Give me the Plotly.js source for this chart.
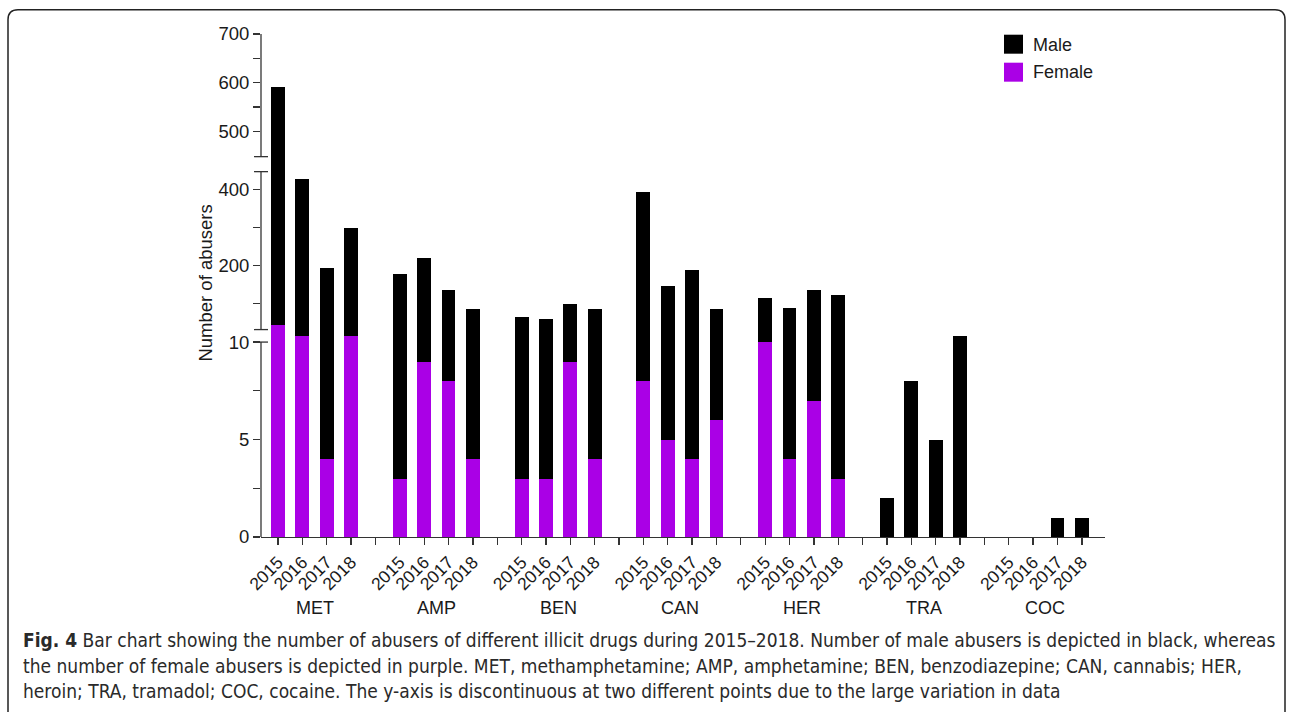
<!DOCTYPE html>
<html><head><meta charset="utf-8">
<script src="https://cdn.plot.ly/plotly-3.0.1.min.js"></script>
<style>html,body{margin:0;padding:0;background:#fff}</style>
</head><body>
<div id="chart" style="width:1292px;height:712px"></div>
<script>
// ---- data ----
const drugs = ['MET', 'AMP', 'BEN', 'CAN', 'HER', 'TRA', 'COC'];
const years = ['2015', '2016', '2017', '2018'];
// female abusers per drug, 2015..2018
const femaleMET = [10.9, 10.3, 4, 10.3];
const femaleAMP = [3, 9, 8, 4];
const femaleBEN = [3, 3, 9, 4];
const femaleCAN = [8, 5, 4, 6];
const femaleHER = [10, 4, 7, 3];
const femaleTRA = [0, 0, 0, 0];
const femaleCOC = [0, 0, 0, 0];
// male abusers per drug, 2015..2018
const maleMET = [581, 419, 191, 290];
const maleAMP = [175, 210, 127, 83];
const maleBEN = [62, 56, 90, 83];
const maleCAN = [387, 140, 184, 81];
const maleHER = [105, 85, 128, 119];
const maleTRA = [2, 8, 5, 10.3];
const maleCOC = [0, 0, 1, 1];

const femaleAll = [femaleMET, femaleAMP, femaleBEN, femaleCAN, femaleHER, femaleTRA, femaleCOC];
const maleAll = [maleMET, maleAMP, maleBEN, maleCAN, maleHER, maleTRA, maleCOC];

// ---- geometry (pixels) ----
const W0 = 1292, H0 = 712;
const L = 261, R = 1105, T = 34.3, B = 537.5;
const PW = R - L, PH = B - T;
const px = v => (v - L) / PW;      // pixel x -> paper
const py = v => (B - v) / PH;      // pixel y -> paper
// value at pixel row for each axis segment
const seg1 = p => (B - p) / 19.5;
const seg2 = p => 200 + (266 - p) / 0.38;
const seg3 = p => 700 - (p - T) / 0.487;

const BLACK = '#000000', PURPLE = '#aa00e6', AX = '#333333', TXT = '#1a1a1a';
const FONT = '"Liberation Sans", Arimo, Arial, Helvetica, sans-serif';

// font helpers for the caption (condensed face if installed)
const cv = document.createElement('canvas').getContext('2d');
function hasFont(f) {
  const s = 'abcdefghijklmnopqrstuvwxyz ABCDEFGHIJKLMNOPQRSTUVWXYZ 0123456789';
  for (const base of ['monospace', 'serif']) {
    cv.font = '40px ' + base; const a = cv.measureText(s).width;
    cv.font = '40px "' + f + '", ' + base; const b = cv.measureText(s).width;
    if (Math.abs(a - b) > 0.5) return true;
  }
  return false;
}
const capCandidates = ['Liberation Sans Narrow', 'DejaVu Sans Condensed', 'Roboto Condensed', 'Open Sans Condensed',
  'Noto Sans Condensed', 'Liberation Sans'];
let capFam = 'Liberation Sans';
for (const f of capCandidates) { if (hasFont(f)) { capFam = f; break; } }

const capLines = [
  '<b>Fig. 4</b> Bar chart showing the number of abusers of different illicit drugs during 2015–2018. Number of male abusers is depicted in black, whereas',
  'the number of female abusers is depicted in purple. MET, methamphetamine; AMP, amphetamine; BEN, benzodiazepine; CAN, cannabis; HER,',
  'heroin; TRA, tramadol; COC, cocaine. The y-axis is discontinuous at two different points due to the large variation in data'
];
cv.font = 'bold 20px "' + capFam + '"';
let w1 = cv.measureText('Fig. 4').width;
cv.font = '20px "' + capFam + '"';
w1 += cv.measureText(' Bar chart showing the number of abusers of different illicit drugs during 2015–2018. Number of male abusers is depicted in black, whereas').width;
let capSize = Math.min(21, 20 * 1253 / w1);

// x positions: each drug is a group of 4 years plus one gap slot
const xs = [], tickText = [], tickVals = [];
drugs.forEach((d, g) => { years.forEach((y, j) => { xs.push(g * 5 + j); }); });
for (let k = 0; k < drugs.length * 5 - 1; k++) {
  tickVals.push(k);
  const j = k % 5;
  tickText.push(j < 4 ? years[j] : '');
}
const fFlat = femaleAll.flat();
const mFlat = maleAll.flat();

const traces = [];
['y', 'y2', 'y3'].forEach(ax => {
  traces.push({type: 'bar', x: xs, y: fFlat, yaxis: ax, xaxis: 'x', name: 'Female',
    marker: {color: PURPLE, line: {width: 0}}, width: 0.57, showlegend: false, hoverinfo: 'skip'});
  traces.push({type: 'bar', x: xs, y: mFlat, yaxis: ax, xaxis: 'x', name: 'Male',
    marker: {color: BLACK, line: {width: 0}}, width: 0.57, showlegend: false, hoverinfo: 'skip'});
});

const yCommon = {
  anchor: 'x', showline: false, showgrid: false, zeroline: false,
  ticks: 'outside', ticklen: 7, tickwidth: 1.3, tickcolor: AX,
  tickfont: {family: FONT, size: 18.5, color: TXT}, fixedrange: true
};
// segment borders (pixel rows); neighbouring domains overlap by 1px to avoid seams
const b1 = 323, b2 = 164.5;

const shapes = [];
const axLine = (y0p, y1p) => shapes.push({type: 'line', xref: 'paper', yref: 'paper',
  x0: 0, x1: 0, y0: py(y0p), y1: py(y1p), line: {color: AX, width: 1.3}});
const cap = (yp) => shapes.push({type: 'line', xref: 'paper', yref: 'paper',
  xsizemode: 'pixel', xanchor: 0, x0: -7, x1: 7, y0: py(yp), y1: py(yp), line: {color: AX, width: 1.3}});
axLine(B, 342.5); axLine(330, 172); axLine(157, T);
cap(342.5); cap(330); cap(172); cap(157);

// legend squares
shapes.push({type: 'rect', xref: 'paper', yref: 'paper', x0: px(1004), x1: px(1023), y0: py(54), y1: py(35),
  fillcolor: BLACK, line: {width: 0}});
shapes.push({type: 'rect', xref: 'paper', yref: 'paper', x0: px(1004), x1: px(1023), y0: py(82), y1: py(63),
  fillcolor: PURPLE, line: {width: 0}});

// figure border (rounded frame)
const bx0 = px(8), bx1 = px(1285), by0 = py(10), byB = py(740), rr = 10;
shapes.push({type: 'path', xref: 'paper', yref: 'paper',
  path: `M ${bx0} ${byB} L ${bx0} ${py(10 + rr)} Q ${bx0} ${by0} ${px(8 + rr)} ${by0} ` +
        `L ${px(1285 - rr)} ${by0} Q ${bx1} ${by0} ${bx1} ${py(10 + rr)} L ${bx1} ${byB}`,
  line: {color: '#222', width: 1.5}});

const annotations = [];
drugs.forEach((d, g) => annotations.push({xref: 'x', yref: 'paper', x: g * 5 + 1.5, y: py(609),
  text: d, showarrow: false, xanchor: 'center', yanchor: 'middle', font: {family: FONT, size: 18, color: TXT}}));
annotations.push({xref: 'paper', yref: 'paper', x: 0, xshift: -55, y: py(284), text: 'Number of abusers',
  textangle: -90, showarrow: false, xanchor: 'center', yanchor: 'middle', font: {family: FONT, size: 18.5, color: TXT}});
annotations.push({xref: 'paper', yref: 'paper', x: px(1031), y: py(45), text: 'Male', showarrow: false,
  xanchor: 'left', yanchor: 'middle', font: {family: FONT, size: 18, color: TXT}});
annotations.push({xref: 'paper', yref: 'paper', x: px(1031), y: py(72.5), text: 'Female', showarrow: false,
  xanchor: 'left', yanchor: 'middle', font: {family: FONT, size: 18, color: TXT}});

const CAP_FONT = {family: '"' + capFam + '", "Liberation Sans", sans-serif', size: capSize, color: '#2a2a2a'};
const capY = [641, 667, 692];
capLines.forEach((t, i) => annotations.push({xref: 'paper', yref: 'paper', x: px(21), y: py(capY[i]), text: t,
  showarrow: false, xanchor: 'left', yanchor: 'middle', align: 'left', font: CAP_FONT}));

const layout = {
  width: W0, height: H0,
  margin: {l: L, r: W0 - R, t: T, b: H0 - B, pad: 0},
  paper_bgcolor: '#fff', plot_bgcolor: 'rgba(0,0,0,0)',
  barmode: 'stack', showlegend: false,
  xaxis: {range: [-0.698, 33.95], tickvals: tickVals, ticktext: tickText, tickangle: -45,
    showline: true, linecolor: AX, linewidth: 1.3, ticks: 'outside', ticklen: 7, tickwidth: 1.3, tickcolor: AX,
    showgrid: false, zeroline: false, tickfont: {family: FONT, size: 17.5, color: TXT}, fixedrange: true},
  yaxis: Object.assign({}, yCommon, {domain: [0, py(b1)], range: [0, seg1(b1)],
    tickvals: [0, 2.5, 5, 7.5, 10], ticktext: ['0', '', '5', '', '10']}),
  yaxis2: Object.assign({}, yCommon, {domain: [py(b1 + 1), py(b2 - 1)], range: [seg2(b1 + 1), seg2(b2 - 1)],
    tickvals: [100, 200, 300, 400], ticktext: ['', '200', '', '400']}),
  yaxis3: Object.assign({}, yCommon, {domain: [py(b2), 1], range: [seg3(b2), 700],
    tickvals: [500, 550, 600, 650, 700], ticktext: ['500', '', '600', '', '700']}),
  shapes: shapes, annotations: annotations
};
Plotly.newPlot('chart', traces, layout, {staticPlot: true, displayModeBar: false});
</script>
</body></html>
